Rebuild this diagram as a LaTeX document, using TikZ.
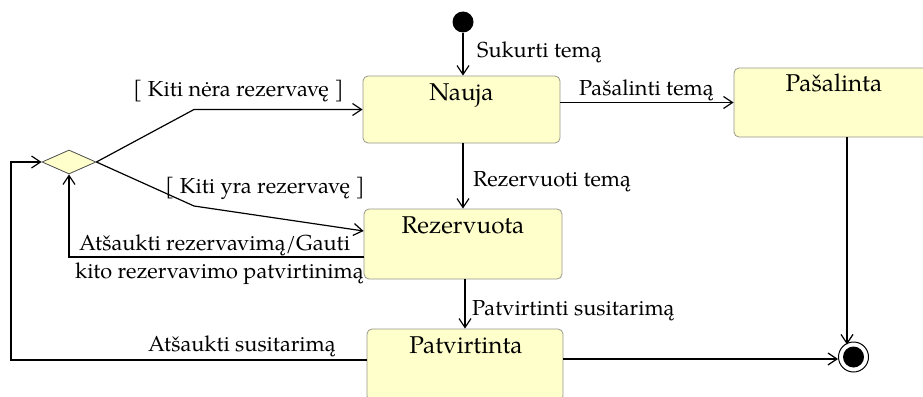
\documentclass[tikz,border=0pt]{standalone}
\usepackage{fontspec}
\setmainfont{TeX Gyre Pagella}
\usetikzlibrary{arrows.meta,shapes.geometric,calc}
\definecolor{statefill}{RGB}{255,255,204}
\definecolor{stateedge}{RGB}{150,150,140}
\begin{document}
\begin{tikzpicture}[x=1pt,y=-1pt,
  every node/.style={font=\fontsize{21.7}{26}\selectfont, inner sep=0pt},
  state/.style={draw=stateedge, fill=statefill, rounded corners=5pt, line width=0.8pt},
  title/.style={anchor=base, font=\fontsize{24.3}{29}\selectfont},
  lbl/.style={anchor=base west},
  flow/.style={line width=1.2pt, -{Straight Barb[length=9pt,width=12pt,line width=1.2pt]}}]
\useasboundingbox (0,0) rectangle (923,396);

% states
\node[state, minimum width=197pt, minimum height=67pt] (nauja) at (461.5,109.5) {};
\node[state, minimum width=206pt, minimum height=69pt] (pasalinta) at (837,102.5) {};
\node[state, minimum width=198pt, minimum height=70pt] (rez) at (463,244) {};
\node[state, minimum width=196pt, minimum height=72pt] (patv) at (465,365) {};

% state names
\node[title] (tNauja) at ($(nauja.north)+(0,25)$) {Nauja};
\node[title] (tPas) at ($(pasalinta.north)+(-3,24)$) {Pašalinta};
\node[title] (tRez) at ($(rez.north)+(0,25)$) {Rezervuota};
\node[title] (tPatv) at ($(patv.north)+(1,25)$) {Patvirtinta};

% pseudo states
\node[circle, fill=black, minimum size=21pt] (init) at (463,22) {};
\node[diamond, aspect=2.25, draw=black!70, fill=statefill, line width=0.8pt,
      minimum width=54pt, minimum height=24pt] (choice) at (69,162) {};
\node[circle, draw, fill=white, line width=1pt, minimum size=30pt] (final) at (853.5,357) {};
\node[circle, fill=black, minimum size=21pt] (finalDot) at (final) {};

% bend points
\coordinate (bendA) at (194,109.5);
\coordinate (bendB) at (194,206);
\coordinate (loopL) at (11,162);
\coordinate (finIn) at ($(final.west)+(0,2)$);
\coordinate (pasOut) at ($(pasalinta.south)+(10,0)$);

% transitions
\draw[flow] (init) -- (init |- nauja.north);
\draw[flow] (nauja.east |- pasalinta.west) -- (pasalinta.west);
\draw[flow] (rez.north |- nauja.south) -- (rez.north);
\draw[flow] (patv.north |- rez.south) -- (patv.north);
\draw[flow] (pasOut) -- ($(pasOut |- final.north)+(0,3)$);
\draw[flow] (finIn -| patv.east) -- (finIn);
\draw[flow] (choice.east) -- (bendA) -- (nauja.west);
\draw[flow] (choice.east) -- (bendB) -- ([yshift=13pt]rez.west);
\draw[flow] ([yshift=-13pt]rez.west) -| (choice.south);
\draw[flow] ([yshift=5pt]patv.west) -| (loopL) -- (choice.west);

% transition labels
\node[lbl] (lSukurti) at (477,58) {Sukurti temą};
\node[lbl] (lPasalinti) at (579,95.7) {Pašalinti temą};
\node[lbl] (lNera) at (133,96) {[ Kiti nėra rezervavę ]};
\node[lbl] (lYra) at (165,193) {[ Kiti yra rezervavę ]};
\node[lbl] (lRezervuoti) at (473,186.7) {Rezervuoti temą};
\node[lbl] (lPatvirtinti) at (472,315) {Patvirtinti susitarimą};
\node[lbl] (lAtsRez) at (79,250) {Atšaukti rezervavimą/Gauti};
\node[lbl] (lKito) at (75,278) {kito rezervavimo patvirtinimą};
\node[lbl] (lAtsSus) at (148,351.7) {Atšaukti susitarimą};
\end{tikzpicture}
\end{document}
